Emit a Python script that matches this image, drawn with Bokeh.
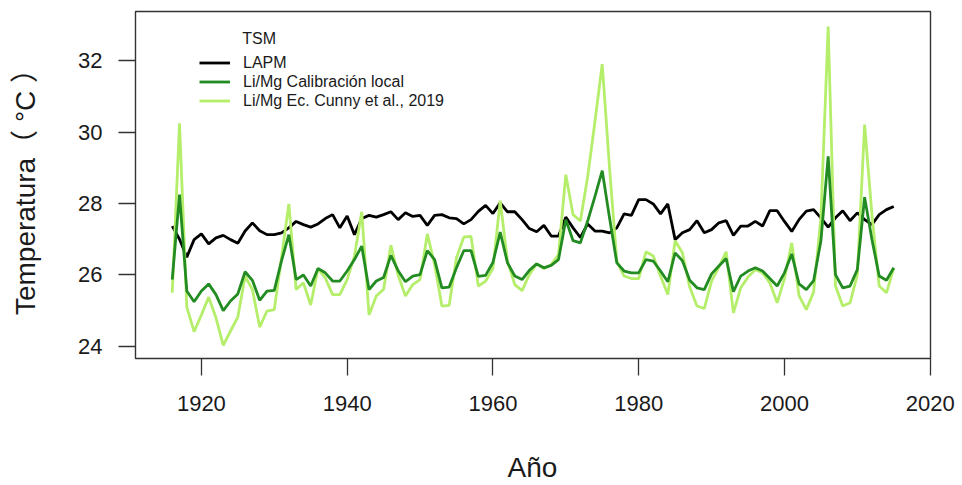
from bokeh.plotting import figure
from bokeh.models import Range1d, FixedTicker, Legend, LegendItem, Label, Div
from bokeh.layouts import column
from bokeh.embed import file_html
from bokeh.resources import INLINE

# Annual sea-surface temperature reconstructions, 1916-2015
years = list(range(1916, 2016))

lapm = [
    27.37, 27.00, 26.50, 26.99, 27.15, 26.87, 27.04, 27.11, 26.99, 26.89,
    27.23, 27.46, 27.24, 27.13, 27.13, 27.18, 27.32, 27.50, 27.41, 27.34,
    27.43, 27.58, 27.69, 27.32, 27.65, 27.13, 27.58, 27.67, 27.62, 27.69,
    27.77, 27.55, 27.74, 27.64, 27.67, 27.39, 27.67, 27.69, 27.60, 27.58,
    27.43, 27.55, 27.78, 27.95, 27.72, 28.02, 27.77, 27.77, 27.55, 27.30,
    27.21, 27.39, 27.09, 27.09, 27.62, 27.32, 27.05, 27.43, 27.23, 27.23,
    27.18, 27.32, 27.71, 27.67, 28.11, 28.11, 27.99, 27.71, 27.99, 26.99,
    27.18, 27.27, 27.52, 27.18, 27.27, 27.46, 27.52, 27.11, 27.37, 27.37,
    27.50, 27.37, 27.80, 27.80, 27.50, 27.22, 27.55, 27.79, 27.83, 27.60,
    27.34, 27.60, 27.80, 27.52, 27.74, 27.55, 27.41, 27.69, 27.83, 27.92,
]

limg_local = [
    25.87, 28.25, 25.55, 25.25, 25.55, 25.75, 25.45, 25.00, 25.27, 25.47,
    26.09, 25.85, 25.29, 25.55, 25.57, 26.40, 27.13, 25.87, 26.00, 25.69,
    26.18, 26.06, 25.83, 25.83, 26.11, 26.43, 26.81, 25.59, 25.83, 25.93,
    26.55, 26.12, 25.81, 25.97, 26.01, 26.68, 26.43, 25.64, 25.66, 26.20,
    26.68, 26.68, 25.96, 25.99, 26.35, 27.20, 26.34, 25.97, 25.87, 26.13,
    26.31, 26.20, 26.27, 26.43, 27.55, 26.96, 26.90, 27.51, 28.20, 28.92,
    27.60, 26.34, 26.11, 26.06, 26.06, 26.43, 26.39, 26.11, 25.81, 26.62,
    26.40, 25.85, 25.64, 25.59, 26.03, 26.25, 26.46, 25.53, 25.97, 26.11,
    26.20, 26.11, 25.90, 25.69, 26.06, 26.59, 25.75, 25.59, 25.84, 26.95,
    29.32, 26.01, 25.64, 25.69, 26.15, 28.18, 27.00, 25.97, 25.85, 26.20,
]

limg_cunny = [
    25.50, 30.25, 25.10, 24.41, 24.88, 25.38, 24.80, 24.03, 24.43, 24.82,
    25.97, 25.59, 24.54, 24.99, 25.03, 26.50, 27.99, 25.59, 25.78, 25.16,
    26.18, 25.92, 25.45, 25.45, 25.87, 26.53, 27.77, 24.88, 25.41, 25.60,
    26.83, 25.99, 25.41, 25.73, 25.87, 27.15, 26.29, 25.13, 25.15, 26.48,
    27.06, 27.08, 25.69, 25.83, 26.18, 28.08, 26.39, 25.73, 25.56, 26.01,
    26.31, 26.18, 26.29, 26.57, 28.81, 27.69, 27.51, 28.75, 30.30, 31.91,
    29.00, 26.39, 25.97, 25.90, 25.90, 26.65, 26.53, 25.97, 25.45, 26.96,
    26.62, 25.66, 25.13, 25.06, 25.83, 26.22, 26.65, 24.94, 25.64, 25.94,
    26.15, 26.06, 25.78, 25.22, 25.90, 26.90, 25.42, 25.03, 25.52, 27.60,
    32.96, 25.70, 25.13, 25.22, 26.00, 30.21, 27.70, 25.69, 25.50, 26.20,
]

x_ticks = [1920, 1940, 1960, 1980, 2000, 2020]
y_ticks = [24, 26, 28, 30, 32]

labels = ["LAPM", "Li/Mg Calibración local", "Li/Mg Ec. Cunny et al., 2019"]
colors = ["#000000", "#228B22", "#B5EE6A"]

FONT = "Liberation Sans"
LABEL_FONT = "Liberation Sans, Noto Sans CJK SC"
TEXT = "#1a1a1a"

p = figure(
    width=962, height=451,
    output_backend="svg", toolbar_location=None,
    x_range=Range1d(1910.96, 2020.04),
    y_range=Range1d(23.66, 33.38),
    min_border_left=135, min_border_right=32,
    min_border_top=11, min_border_bottom=93,
    background_fill_color="white", border_fill_color="white",
    margin=(0, 0, 0, 0),
)

p.grid.visible = False
p.outline_line_color = "#333333"
p.outline_line_width = 1.4

for ax in (p.xaxis[0], p.yaxis[0]):
    ax.axis_line_color = None
    ax.major_tick_line_color = "#333333"
    ax.major_tick_line_width = 1.3
    ax.major_tick_in = 0
    ax.major_tick_out = 17
    ax.minor_tick_line_color = None
    ax.major_label_text_font = FONT
    ax.major_label_text_font_size = "22px"
    ax.major_label_text_color = TEXT
    ax.axis_label_text_font = LABEL_FONT
    ax.axis_label_text_font_size = "28px"
    ax.axis_label_text_font_style = "normal"
    ax.axis_label_text_color = TEXT

p.xaxis.ticker = FixedTicker(ticks=x_ticks)
p.yaxis.ticker = FixedTicker(ticks=y_ticks)
p.xaxis.major_label_standoff = 20
p.yaxis.major_label_standoff = 16
p.yaxis.axis_label = "Temperatura（ °C ）"
p.yaxis.axis_label_standoff = 34

r_lapm = p.line(years, lapm, line_color=colors[0], line_width=2.8)
r_cunny = p.line(years, limg_cunny, line_color=colors[2], line_width=2.8)
r_local = p.line(years, limg_local, line_color=colors[1], line_width=2.8)

legend = Legend(
    items=[
        LegendItem(label=labels[0], renderers=[r_lapm]),
        LegendItem(label=labels[1], renderers=[r_local]),
        LegendItem(label=labels[2], renderers=[r_cunny]),
    ],
    location=(64, 248),
    orientation="vertical",
    glyph_width=31, glyph_height=19, label_height=19,
    label_standoff=13, spacing=0, padding=0, margin=0,
    border_line_color=None, background_fill_alpha=0,
    label_text_font=FONT, label_text_font_size="16px",
    label_text_color=TEXT,
)
p.add_layout(legend)

p.add_layout(Label(
    x=1925.6, y=32.62, text="TSM",
    text_font=FONT, text_font_size="16px", text_color=TEXT,
    text_align="left", text_baseline="middle",
))

# x-axis title, centred under the plot frame
xlabel = Div(
    text='<div style="margin-left:135px;width:795px;text-align:center;'
         'font-family:\'Liberation Sans\';font-size:28px;line-height:34px;'
         'color:#1a1a1a;">Año</div>',
    width=962, height=34, margin=(0, 0, 0, 0),
)

layout = column(p, xlabel, spacing=0)

open("out.html", "w").write(file_html(layout, INLINE))
